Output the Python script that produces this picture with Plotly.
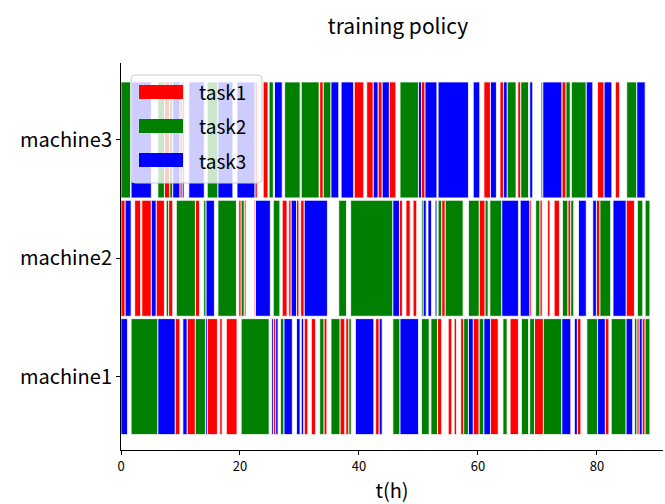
import plotly.graph_objects as go

machines = ["machine1", "machine2", "machine3"]
task_names = ["task1", "task2", "task3"]
task_colors = ["#ff0000", "#008000", "#0000ff"]

# machine3 segments
m3_start = [0, 1.7, 6.2, 7.3, 8.2, 8.7, 9.9, 10.3, 11.4, 14.5, 16.3, 19.5, 22.5, 23.9, 24.9, 25.8, 27.5, 30.3,
            33.4, 34.0, 35.3, 37.0, 39.2, 41.3, 42.4, 43.2, 43.9, 45.1, 46.9, 50.0, 50.5, 51.1, 53.3, 59.2,
            61.0, 62.1, 63.7, 64.3, 64.9, 66.7, 67.2, 68.7, 70.6, 70.9, 74.1, 74.8, 75.7, 78.2, 80.1, 81.2,
            83.1, 85.0, 86.7]
m3_end = [1.6, 5.1, 7.3, 8.2, 8.7, 9.9, 10.3, 10.6, 14.0, 16.3, 18.8, 22.5, 22.9, 24.7, 25.6, 27.1, 30.1, 33.3,
          34.0, 35.3, 36.6, 39.1, 40.8, 42.4, 43.2, 43.9, 45.1, 46.2, 50.0, 50.5, 51.1, 53.1, 58.4, 60.3,
          62.1, 63.1, 64.3, 64.9, 66.4, 67.2, 68.5, 69.2, 70.9, 74.1, 74.8, 75.5, 78.2, 79.3, 81.2, 82.5,
          83.8, 86.7, 88.1]
m3_task = [2, 3, 2, 1, 2, 3, 1, 3, 3, 2, 3, 3, 1, 1, 2, 3, 2, 2,
           1, 2, 3, 3, 1, 1, 3, 1, 3, 1, 2, 3, 1, 3, 3, 3,
           1, 3, 1, 3, 2, 1, 2, 3, 2, 3, 1, 2, 2, 3, 1, 3,
           1, 2, 3]

# machine2 segments
m2_start = [0, 0.7, 2.3, 3.5, 5.1, 5.9, 7.6, 8.0, 9.3, 12.5, 13.9, 14.3, 16.3, 19.8, 20.2, 20.7, 22.4, 22.6,
            25.6, 27.1, 28.2, 28.6, 29.5, 30.2, 30.8, 36.6, 38.6, 45.7, 46.8, 47.9, 49.1, 50.5, 50.8, 51.6,
            52.8, 53.3, 53.9, 54.5, 58.4, 60.2, 61.2, 62.0, 64.0, 67.1, 68.7, 69.7, 70.4, 71.7, 72.8, 74.2,
            75.1, 75.6, 76.9, 79.3, 79.9, 80.5, 82.7, 84.9, 86.8, 88.1]
m2_end = [0.7, 1.7, 3.3, 5.1, 5.9, 7.3, 8.0, 8.7, 12.5, 13.2, 14.3, 15.7, 19.4, 20.2, 20.7, 21.0, 22.6, 25.1,
          26.7, 27.9, 28.6, 29.5, 29.9, 30.8, 34.7, 37.9, 45.7, 46.8, 47.3, 48.6, 49.7, 50.8, 51.3, 52.2,
          53.1, 53.9, 54.5, 57.5, 60.2, 61.2, 61.7, 64.0, 66.8, 68.7, 69.0, 70.4, 70.8, 72.1, 73.7, 75.1,
          75.6, 76.1, 78.2, 79.9, 80.5, 82.3, 84.9, 86.3, 87.7, 88.9]
m2_task = [1, 3, 1, 1, 3, 1, 2, 1, 2, 1, 2, 3, 2, 1, 2, 1, 1, 3,
           2, 1, 1, 3, 1, 1, 3, 2, 2, 3, 1, 1, 1, 2, 3, 3,
           3, 2, 1, 2, 2, 1, 2, 2, 3, 3, 1, 2, 1, 1, 1, 2,
           1, 2, 3, 3, 1, 2, 3, 1, 2, 2]

# machine1 segments
m1_start = [0, 1.7, 6.2, 9.1, 10.4, 11.1, 12.5, 14.2, 14.5, 16.6, 17.7, 20.2, 25.3, 25.6, 26.0, 26.8, 27.4,
            29.5, 30.3, 30.8, 32.0, 33.4, 34.1, 35.3, 36.8, 37.8, 38.3, 39.4, 42.8, 43.4, 45.7, 46.9, 50.5,
            52.1, 53.2, 55.0, 56.0, 57.1, 57.6, 58.4, 59.2, 60.2, 61.0, 62.1, 64.2, 65.4, 67.3, 68.7, 69.5,
            71.0, 74.1, 76.2, 76.7, 78.3, 80.1, 81.4, 82.4, 84.9, 86.3, 86.7, 87.1, 87.6, 88.1]
m1_end = [1.1, 6.2, 9.1, 9.9, 11.1, 12.5, 14.2, 14.5, 16.2, 17.0, 19.5, 24.9, 25.6, 26.0, 26.4, 27.4, 28.8,
          30.1, 30.7, 31.4, 32.7, 34.1, 34.6, 36.8, 37.6, 38.3, 38.7, 42.5, 43.4, 43.9, 46.9, 50.0, 51.8,
          53.2, 53.9, 55.6, 56.4, 57.6, 58.4, 59.2, 60.2, 61.0, 62.1, 63.4, 64.9, 66.8, 68.5, 69.5, 71.0,
          74.1, 75.6, 76.7, 77.3, 80.1, 81.4, 82.0, 84.9, 86.0, 86.7, 87.1, 87.6, 88.1, 88.9]
m1_task = [3, 2, 3, 1, 3, 1, 2, 3, 1, 1, 1, 2, 3, 1, 3, 2, 3,
           3, 3, 1, 1, 2, 1, 2, 1, 1, 2, 3, 1, 3, 2, 3, 2,
           2, 1, 1, 1, 1, 2, 3, 1, 2, 3, 1, 2, 1, 2, 2, 1,
           2, 3, 3, 1, 2, 3, 1, 2, 3, 2, 1, 3, 1, 2]

x_ticks = [0, 20, 40, 60, 80]
title_text = "training policy"
x_label = "t(h)"

FONT = "Noto Sans CJK SC"

rows = [(machines[0], m1_start, m1_end, m1_task),
        (machines[1], m2_start, m2_end, m2_task),
        (machines[2], m3_start, m3_end, m3_task)]

fig = go.Figure()
for ti, (tname, tcol) in enumerate(zip(task_names, task_colors), start=1):
    ys, bases, durs = [], [], []
    for mname, st, en, tk in rows:
        for s, e, t in zip(st, en, tk):
            if t == ti:
                ys.append(mname)
                bases.append(s)
                durs.append(round(e - s, 3))
    fig.add_trace(go.Bar(
        y=ys, x=durs, base=bases, orientation="h", name=tname,
        marker=dict(color=tcol, line=dict(color="white", width=0.8)),
        width=0.98, showlegend=False, hoverinfo="skip"))

W, H = 665, 504
L, R, T, B = 121, 663, 63, 450


def px(xp):
    return (xp - L) / (R - L)


def py(yp):
    return (B - yp) / (B - T)


def rounded_rect(x0, y0, x1, y1, r):
    # pixel coords -> paper path with rounded corners
    pts = []
    pts.append(f"M {px(x0 + r)},{py(y0)}")
    pts.append(f"L {px(x1 - r)},{py(y0)}")
    pts.append(f"Q {px(x1)},{py(y0)} {px(x1)},{py(y0 + r)}")
    pts.append(f"L {px(x1)},{py(y1 - r)}")
    pts.append(f"Q {px(x1)},{py(y1)} {px(x1 - r)},{py(y1)}")
    pts.append(f"L {px(x0 + r)},{py(y1)}")
    pts.append(f"Q {px(x0)},{py(y1)} {px(x0)},{py(y1 - r)}")
    pts.append(f"L {px(x0)},{py(y0 + r)}")
    pts.append(f"Q {px(x0)},{py(y0)} {px(x0 + r)},{py(y0)} Z")
    return " ".join(pts)


shapes = []
annotations = []
# legend box (drawn manually to mimic wide patches)
shapes.append(dict(type="path", xref="paper", yref="paper",
                   path=rounded_rect(131, 75, 262, 183, 4),
                   fillcolor="rgba(255,255,255,0.8)", line=dict(color="#cccccc", width=1),
                   layer="above"))
for i, (tname, tcol) in enumerate(zip(task_names, task_colors)):
    yc = 92 + 34 * i
    shapes.append(dict(type="rect", xref="paper", yref="paper",
                       x0=px(139), x1=px(183), y0=py(yc + 7), y1=py(yc - 7),
                       fillcolor=tcol, line=dict(width=0), layer="above"))
    annotations.append(dict(text=tname, xref="paper", yref="paper", x=px(197), y=py(yc),
                            xanchor="left", yanchor="middle", showarrow=False,
                            font=dict(family=FONT, size=19, color="black")))

fig.update_layout(
    width=W, height=H,
    margin=dict(l=L, r=W - R, t=T, b=H - B),
    paper_bgcolor="white", plot_bgcolor="white",
    barmode="overlay",
    title=dict(text=title_text, x=(398) / W, xanchor="center", y=1 - 27 / H, yanchor="middle",
               font=dict(family=FONT, size=21, color="black")),
    shapes=shapes, annotations=annotations,
    font=dict(family=FONT, color="black"),
)
fig.update_xaxes(range=[0, 91.1], tickvals=x_ticks, ticktext=[str(v) for v in x_ticks],
                 showline=True, linecolor="black", linewidth=1, ticks="outside", ticklen=4,
                 tickcolor="black", showgrid=False, zeroline=False,
                 tickfont=dict(family=FONT, size=13),
                 title=dict(text=x_label, font=dict(family=FONT, size=20), standoff=13))
fig.update_yaxes(range=[-0.62, 2.65], categoryorder="array", categoryarray=machines,
                 showline=True, linecolor="black", linewidth=1, ticks="outside", ticklen=4,
                 tickcolor="black", showgrid=False, zeroline=False,
                 tickfont=dict(family=FONT, size=20))

fig.write_html("out.html")
